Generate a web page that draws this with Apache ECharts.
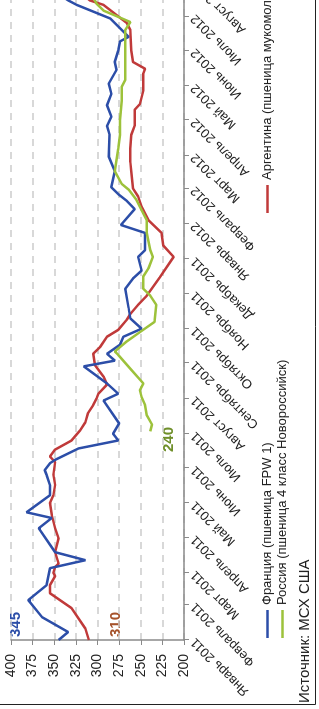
<!DOCTYPE html>
<html>
<head>
<meta charset="utf-8">
<script src="https://cdn.jsdelivr.net/npm/echarts@6.0.0/dist/echarts.min.js"></script>
<style>
    html, body { margin: 0; padding: 0; width: 319px; height: 709px; overflow: hidden; background: #fff; }
    /* график рисуется горизонтально и поворачивается на 90° против часовой */
    #chart { position: absolute; left: 0; top: 0; width: 760px; height: 319px;
             transform-origin: 0 0; transform: translateY(709px) rotate(-90deg); }
</style>
</head>
<body>
<div id="chart"></div>
<script>
// Франция (пшеница FPW 1)
var franceDates = ['2011-01-01', '2011-01-08', '2011-01-21', '2011-02-05', '2011-02-18', '2011-03-05', '2011-03-12',
    '2011-03-19', '2011-04-09', '2011-04-18', '2011-04-23', '2011-05-08', '2011-05-17', '2011-05-26', '2011-05-30',
    '2011-06-05', '2011-06-08', '2011-06-18', '2011-06-25', '2011-07-01', '2011-07-10', '2011-07-30', '2011-08-05',
    '2011-08-14', '2011-08-29', '2011-09-03', '2011-09-09', '2011-09-17', '2011-09-24', '2011-10-01', '2011-10-10',
    '2011-10-19', '2011-11-05', '2011-11-14', '2011-11-21', '2011-12-03', '2011-12-09', '2011-12-24', '2011-12-31',
    '2012-01-14', '2012-01-21', '2012-01-27', '2012-02-02', '2012-02-16', '2012-02-29', '2012-03-19', '2012-03-27',
    '2012-04-04', '2012-04-14', '2012-04-24', '2012-05-03', '2012-05-15', '2012-05-22', '2012-06-01', '2012-06-09',
    '2012-06-13', '2012-06-29', '2012-07-11', '2012-07-15', '2012-07-22'];
var franceValues = [345, 334, 364, 380, 359, 355, 314,
    349, 368, 353, 382, 355, 355, 359, 361,
    355, 349, 322, 276, 282, 275, 293, 276,
    289, 316, 280, 289, 274, 270, 249, 262,
    264, 268, 259, 249, 253, 245, 245, 273,
    257, 266, 276, 284, 280, 287, 286, 289,
    284, 289, 284, 287, 278, 280, 276, 274,
    264, 285, 324, 334, 348];

// Россия (пшеница 4 класс Новороссийск)
var russiaDates = ['2011-07-03', '2011-07-09', '2011-07-17', '2011-07-26', '2011-08-02', '2011-08-08', '2011-08-14',
    '2011-08-26', '2011-09-08', '2011-09-11', '2011-09-20', '2011-09-28', '2011-10-07', '2011-10-22', '2011-10-30',
    '2011-11-05', '2011-11-16', '2011-11-23', '2011-12-03', '2011-12-09', '2011-12-24', '2012-01-04', '2012-01-13',
    '2012-01-22', '2012-01-31', '2012-02-05', '2012-02-16', '2012-02-26', '2012-03-07', '2012-03-19', '2012-04-01',
    '2012-04-18', '2012-04-30', '2012-05-06', '2012-05-23', '2012-06-19', '2012-06-26', '2012-07-06', '2012-07-12',
    '2012-07-19'];
var russiaValues = [239, 237, 243, 245, 249, 251, 247,
    261, 276, 280, 266, 251, 234, 232, 239,
    247, 247, 241, 236, 239, 243, 243, 249,
    255, 264, 272, 280, 278, 276, 274, 274,
    272, 272, 268, 268, 268, 262, 293, 301,
    306];

// Аргентина (пшеница мукомольная)
var argentinaDates = ['2011-01-01', '2011-01-11', '2011-01-29', '2011-02-11', '2011-02-18', '2011-02-26', '2011-03-01',
    '2011-03-06', '2011-03-09', '2011-03-19', '2011-03-31', '2011-04-09', '2011-04-21', '2011-05-01', '2011-05-08',
    '2011-05-17', '2011-05-26', '2011-06-06', '2011-06-11', '2011-06-17', '2011-06-25', '2011-07-04', '2011-07-11',
    '2011-07-19', '2011-07-26', '2011-08-01', '2011-08-05', '2011-08-13', '2011-08-20', '2011-08-30', '2011-09-09',
    '2011-09-15', '2011-09-24', '2011-09-30', '2011-10-09', '2011-10-14', '2011-10-22', '2011-10-30', '2011-11-15',
    '2011-12-03', '2011-12-13', '2011-12-24', '2012-01-04', '2012-01-16', '2012-01-25', '2012-02-01', '2012-02-16',
    '2012-02-24', '2012-03-07', '2012-03-19', '2012-03-27', '2012-04-10', '2012-04-15', '2012-04-27', '2012-05-12',
    '2012-05-16', '2012-05-22', '2012-06-01', '2012-06-19', '2012-06-25', '2012-07-11', '2012-07-15', '2012-07-22'];
var argentinaValues = [310, 314, 330, 355, 355, 349, 351,
    349, 345, 349, 345, 349, 353, 355, 351,
    349, 351, 349, 355, 349, 330, 320, 314,
    311, 305, 301, 299, 289, 293, 303, 305,
    297, 289, 276, 266, 262, 253, 243, 228,
    212, 224, 226, 241, 249, 253, 259, 261,
    262, 262, 261, 257, 257, 251, 247, 247,
    245, 259, 261, 262, 266, 293, 309, 320];

var seriesNames = ['Франция (пшеница FPW 1)', 'Россия (пшеница 4 класс Новороссийск)', 'Аргентина (пшеница мукомольная)'];
var seriesColors = ['#2c4ea8', '#9dc23b', '#c03a3a'];
var monthNames = ['Январь', 'Февраль', 'Март', 'Апрель', 'Май', 'Июнь', 'Июль', 'Август',
    'Сентябрь', 'Октябрь', 'Ноябрь', 'Декабрь'];

var DAY = 86400000;
var start = Date.UTC(2011, 0, 1);

// дата -> число дней от 1 января 2011
function dayNum(s) {
    var p = s.split('-');
    return (Date.UTC(+p[0], +p[1] - 1, +p[2]) - start) / DAY;
}

// начало каждого месяца: январь 2011 - август 2012
var monthTicks = [];
for (var i = 0; i < 20; i++) {
    monthTicks.push((Date.UTC(2011, i, 1) - start) / DAY);
}

function pairs(dates, values) {
    var out = [];
    for (var i = 0; i < dates.length; i++) {
        out.push([dayNum(dates[i]), values[i]]);
    }
    return out;
}

var font = "'Liberation Sans', Arial, sans-serif";
var chart = echarts.init(document.getElementById('chart'));

var option = {
    animation: false,
    backgroundColor: '#fff',
    textStyle: { fontFamily: font },
    grid: {
        left: 69, right: 16, top: 11, bottom: 135,
        containLabel: false,
        outerBoundsMode: 'none'
    },
    legend: [{
        data: [seriesNames[0], seriesNames[1]],
        orient: 'vertical',
        left: 71, top: 261,
        padding: 0,
        itemGap: 2,
        itemWidth: 28, itemHeight: 2.5,
        icon: 'rect',
        textStyle: { fontSize: 13, color: '#222', fontFamily: font }
    }, {
        data: [seriesNames[2]],
        orient: 'vertical',
        left: 496, top: 261,
        padding: 0,
        itemWidth: 28, itemHeight: 2.5,
        icon: 'rect',
        textStyle: { fontSize: 13, color: '#222', fontFamily: font }
    }],
    xAxis: {
        type: 'value',
        min: 0,
        max: dayNum('2012-08-15'),
        axisLine: { lineStyle: { color: '#8a8a8a', width: 1.5 } },
        axisTick: { show: true, length: 5, customValues: monthTicks, lineStyle: { color: '#8a8a8a' } },
        splitLine: { show: false },
        axisLabel: {
            customValues: monthTicks,
            rotate: 45,
            margin: 9,
            fontSize: 13,
            color: '#222',
            fontFamily: font,
            formatter: function (v) {
                var d = new Date(start + v * DAY);
                return monthNames[d.getUTCMonth()] + ' ' + d.getUTCFullYear();
            }
        }
    },
    yAxis: {
        type: 'value',
        min: 200, max: 400, interval: 25,
        axisLine: { show: true, lineStyle: { color: '#8a8a8a', width: 1.5 } },
        axisTick: { show: true, length: 5, lineStyle: { color: '#8a8a8a' } },
        splitLine: { show: true, lineStyle: { color: '#cccccc', width: 1.5, type: [7, 6] } },
        axisLabel: {
            margin: 14,
            fontSize: 14,
            color: '#222',
            fontFamily: font
        }
    },
    series: [{
        name: seriesNames[0],
        type: 'line',
        symbol: 'none',
        z: 3,
        data: pairs(franceDates, franceValues),
        lineStyle: { color: seriesColors[0], width: 2.5 },
        itemStyle: { color: seriesColors[0] }
    }, {
        name: seriesNames[1],
        type: 'line',
        symbol: 'none',
        z: 4,
        data: pairs(russiaDates, russiaValues),
        lineStyle: { color: seriesColors[1], width: 2.5 },
        itemStyle: { color: seriesColors[1] }
    }, {
        name: seriesNames[2],
        type: 'line',
        symbol: 'none',
        z: 2,
        data: pairs(argentinaDates, argentinaValues),
        lineStyle: { color: seriesColors[2], width: 2.5 },
        itemStyle: { color: seriesColors[2] }
    }],
    graphic: [
        // рамка
        { type: 'rect', shape: { x: 4.5, y: -10, width: 800, height: 325.5 },
          style: { fill: 'none', stroke: '#222', lineWidth: 1 }, silent: true },
        // подписи начальных значений
        { type: 'text', x: 72, y: 16, style: { text: '345', fill: '#2c4ea8', font: 'bold 15px ' + font, verticalAlign: 'middle' } },
        { type: 'text', x: 72, y: 116, style: { text: '310', fill: '#a5522a', font: 'bold 15px ' + font, verticalAlign: 'middle' } },
        { type: 'text', x: 257, y: 169, style: { text: '240', fill: '#6f8f2a', font: 'bold 15px ' + font, verticalAlign: 'middle' } },
        // источник
        { type: 'text', x: 6, y: 305, style: { text: 'Источник: МСХ США', fill: '#222', font: '15px ' + font, verticalAlign: 'middle' } }
    ]
};
chart.setOption(option);
</script>
</body>
</html>
